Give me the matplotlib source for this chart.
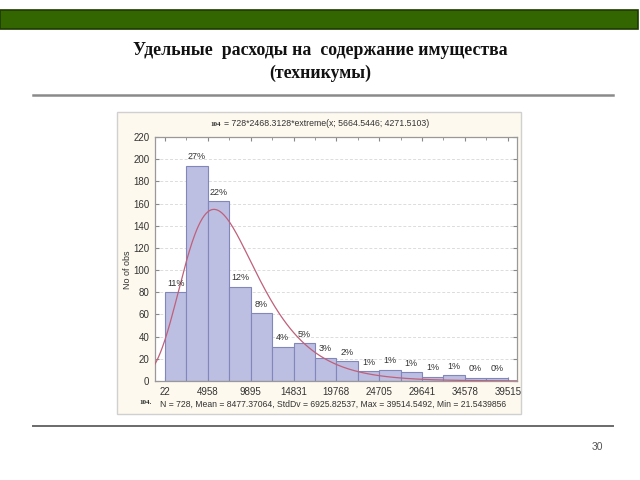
import matplotlib.pyplot as plt
import numpy as np
from matplotlib.patches import Rectangle
from matplotlib.lines import Line2D

# histogram data
bin_min = 21.5439856
bin_max = 39514.5492
counts = [80, 194, 162, 85, 61, 31, 34, 21, 18, 9, 10, 8, 4, 5, 3, 3]
x_labels = ["22", "4958", "9895", "14831", "19768", "24705", "29641", "34578", "39515"]
y_ticks = [0, 20, 40, 60, 80, 100, 120, 140, 160, 180, 200, 220]
n_obs = 728
bin_width = 2468.3128
# fitted curve stated on the chart: extreme(x; loc; scale)
fit_loc = 5664.5446
fit_scale = 4271.5103

title = "Удельные  расходы на  содержание имущества\n(техникумы)"
formula = "= 728*2468.3128*extreme(x; 5664.5446; 4271.5103)"
footer = "N = 728, Mean = 8477.37064, StdDv = 6925.82537, Max = 39514.5492, Min = 21.5439856"

W, H = 640, 480
fig = plt.figure(figsize=(6.4, 4.8), dpi=100)


def fx(px):
    return px / W


def fy(py):
    return 1 - py / H


# slide decorations
fig.patches.append(Rectangle((fx(0), fy(29)), fx(638), 19 / H, transform=fig.transFigure,
                             facecolor="#336600", edgecolor="#1e3a00", lw=1.2))
fig.text(fx(320), fy(62), title, ha="center", va="center", fontsize=12.8, fontweight="bold",
         family="Liberation Serif", linespacing=1.5, color="#111111")
fig.add_artist(Line2D([fx(33), fx(613)], [fy(95), fy(95)], color="#8a8a8a", lw=1.8))
fig.add_artist(Line2D([fx(33), fx(613)], [fy(426), fy(426)], color="#6a6a6a", lw=1.4))
fig.text(fx(597), fy(447), "30", ha="center", va="center", fontsize=7.5, color="#555555",
         family="Liberation Sans")

# chart panel, kept behind the axes
fig.patches.append(Rectangle((fx(117), fy(414)), (521 - 117) / W, (414 - 112) / H,
                             transform=fig.transFigure, facecolor="#fdf9ee",
                             edgecolor="#d0d0d0", lw=1.0, zorder=-1))

ax = fig.add_axes([fx(155), fy(381), (517 - 155) / W, (381 - 137) / H])
ax.set_zorder(2)
ax.set_facecolor("white")

edges = np.linspace(bin_min, bin_max, len(counts) + 1)
ax.bar(edges[:-1], counts, width=np.diff(edges), align="edge", color="#bcbfe2",
       edgecolor="#8186bb", lw=0.8, zorder=2)

for left, c in zip(edges[:-1], counts):
    pct = round(c / n_obs * 100)
    ax.text(left + bin_width / 2, c + 4, f"{pct}%", ha="center", va="bottom",
            fontsize=6.5, color="#333333", family="Liberation Sans", zorder=4)

x_lo = bin_min - 1150
x_hi = bin_max + 1070
xs = np.linspace(x_lo, x_hi, 400)
z = (xs - fit_loc) / fit_scale
fit = n_obs * bin_width / fit_scale * np.exp(-(z + np.exp(-z)))
ax.plot(xs, fit, color="#c0607a", lw=0.9, zorder=3)

ax.set_xlim(x_lo, x_hi)
ax.set_ylim(0, 220)
ax.set_yticks(y_ticks)
ax.set_yticklabels([str(t) for t in y_ticks])
ax.set_xticks(edges[::2])
ax.set_xticklabels(x_labels)
ax.set_xticks(edges, minor=True)
ax.tick_params(axis="both", which="both", direction="in", length=3, color="#888888",
               top=True, right=True, labelsize=7, labelcolor="#333333", pad=4)
ax.tick_params(axis="x", which="minor", length=2)
for lab in ax.get_xticklabels() + ax.get_yticklabels():
    lab.set_family("Liberation Sans")
ax.yaxis.grid(True, ls=(0, (3, 2)), color="#dcdcdc", lw=0.7, zorder=0)
ax.set_axisbelow(True)
for s in ax.spines.values():
    s.set_color("#999999")
    s.set_linewidth(0.9)

fig.text(fx(127), fy(270), "No of obs", rotation=90, ha="center", va="center", fontsize=6.5,
         color="#333333", family="Liberation Sans")
fig.text(fx(210), fy(124), "104", ha="left", va="center", fontsize=5, fontweight="bold",
         family="Liberation Serif", color="#222222")
fig.text(fx(224), fy(124), formula, ha="left", va="center", fontsize=6.3, color="#333333",
         family="Liberation Sans")
fig.text(fx(139), fy(403), "104.", ha="left", va="center", fontsize=5, fontweight="bold",
         family="Liberation Serif", color="#222222")
fig.text(fx(160), fy(404), footer, ha="left", va="center", fontsize=6.2, color="#333333",
         family="Liberation Sans")

fig.savefig("out.png", dpi=100, facecolor="white")
